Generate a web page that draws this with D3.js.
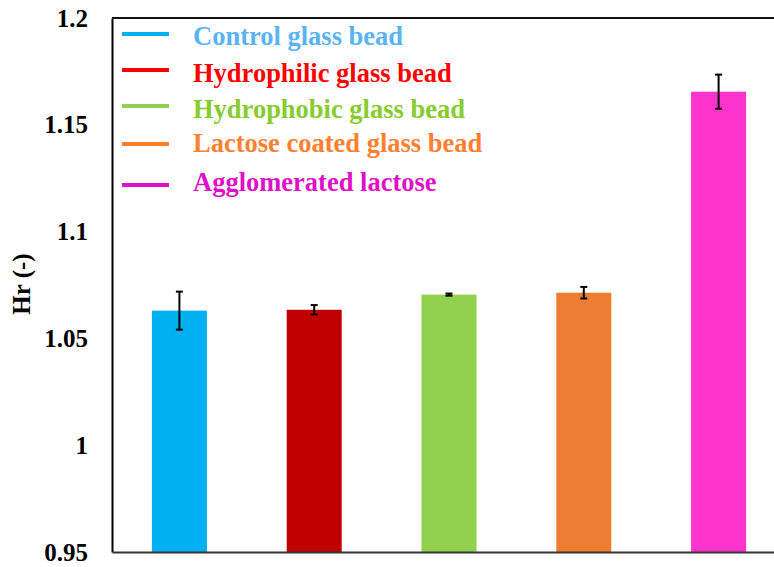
<!DOCTYPE html>
<html>
<head>
<meta charset="utf-8">
<script src="https://cdn.jsdelivr.net/npm/d3@7/dist/d3.min.js"></script>
<style>
  html, body { margin: 0; padding: 0; background: #fff; }
  svg { display: block; }
  text { font-family: "Liberation Serif", "Times New Roman", serif; font-weight: bold; }
</style>
</head>
<body>
<svg id="chart" width="774" height="567"></svg>
<script>
// Hausner ratio by material
const categories = ["Control glass bead", "Hydrophilic glass bead", "Hydrophobic glass bead", "Lactose coated glass bead", "Agglomerated lactose"];
const values = [1.063, 1.0634, 1.0705, 1.0714, 1.1655];
const errors = [0.0089, 0.0022, 0.0005, 0.0027, 0.0080];
const barColors = ["#00B0F0", "#C00000", "#92D050", "#ED7D31", "#FF33CC"];
const legendLineColors = ["#00B0F0", "#FF0000", "#92D050", "#FF7F2A", "#E010C8"];
const legendTextColors = ["#5AB4F4", "#FF0000", "#86CC2E", "#FF8030", "#E010C8"];
const yTicks = [0.95, 1, 1.05, 1.1, 1.15, 1.2];
const yTitle = "Hr (-)";

const svg = d3.select("#chart");
const plotLeft = 112, plotTop = 18, plotBottom = 552, plotRight = 786;

const y = d3.scaleLinear().domain([0.95, 1.2]).range([plotBottom, plotTop]);
const x = d3.scaleBand().domain(categories).range([plotLeft, plotRight])
  .paddingInner(0.592).paddingOuter(0.296);

// bars
svg.append("g").selectAll("rect").data(categories).join("rect")
  .attr("x", d => x(d))
  .attr("width", x.bandwidth())
  .attr("y", (d, i) => y(values[i]))
  .attr("height", (d, i) => y(0.95) - y(values[i]))
  .attr("fill", (d, i) => barColors[i]);

// error bars
const eb = svg.append("g").attr("stroke", "#000").attr("stroke-width", 2);
categories.forEach((c, i) => {
  const cx = x(c) + x.bandwidth() / 2;
  const y1 = y(values[i] + errors[i]), y2 = y(values[i] - errors[i]);
  eb.append("line").attr("x1", cx).attr("x2", cx).attr("y1", y1).attr("y2", y2);
  eb.append("line").attr("x1", cx - 3.5).attr("x2", cx + 3.5).attr("y1", y1).attr("y2", y1);
  eb.append("line").attr("x1", cx - 3.5).attr("x2", cx + 3.5).attr("y1", y2).attr("y2", y2);
});

// frame: left axis, bottom axis, top border
const yAxis = d3.axisLeft(y).tickValues(yTicks).tickSize(0).tickPadding(24)
  .tickFormat(d => String(d));
const gy = svg.append("g").attr("transform", `translate(${plotLeft},0)`).call(yAxis);
gy.select(".domain").attr("stroke", "#000").attr("stroke-width", 2);
gy.selectAll(".tick text").attr("font-size", 25).attr("fill", "#000")
  .attr("font-family", "Liberation Serif, serif").attr("font-weight", "bold");

const xAxis = d3.axisBottom(x).tickSize(0).tickFormat("");
const gx = svg.append("g").attr("transform", `translate(0,${plotBottom})`).call(xAxis);
gx.select(".domain").attr("stroke", "#333").attr("stroke-width", 2);

svg.append("line").attr("x1", plotLeft).attr("x2", plotRight).attr("y1", plotTop).attr("y2", plotTop)
  .attr("stroke", "#111").attr("stroke-width", 2);

// axis title
svg.append("text")
  .attr("transform", "translate(30,284) rotate(-90)")
  .attr("text-anchor", "middle")
  .attr("font-size", 25)
  .attr("fill", "#000")
  .text(yTitle);

// legend
const legendLineY = [34, 70, 106, 144, 185];
const legendTextY = [45, 82, 118, 152, 191];
const lg = svg.append("g");
categories.forEach((c, i) => {
  lg.append("line").attr("x1", 122).attr("x2", 169)
    .attr("y1", legendLineY[i]).attr("y2", legendLineY[i])
    .attr("stroke", legendLineColors[i]).attr("stroke-width", 4);
  lg.append("text").attr("x", 193).attr("y", legendTextY[i])
    .attr("font-size", 26.5).attr("fill", legendTextColors[i]).text(c);
});
</script>
</body>
</html>
